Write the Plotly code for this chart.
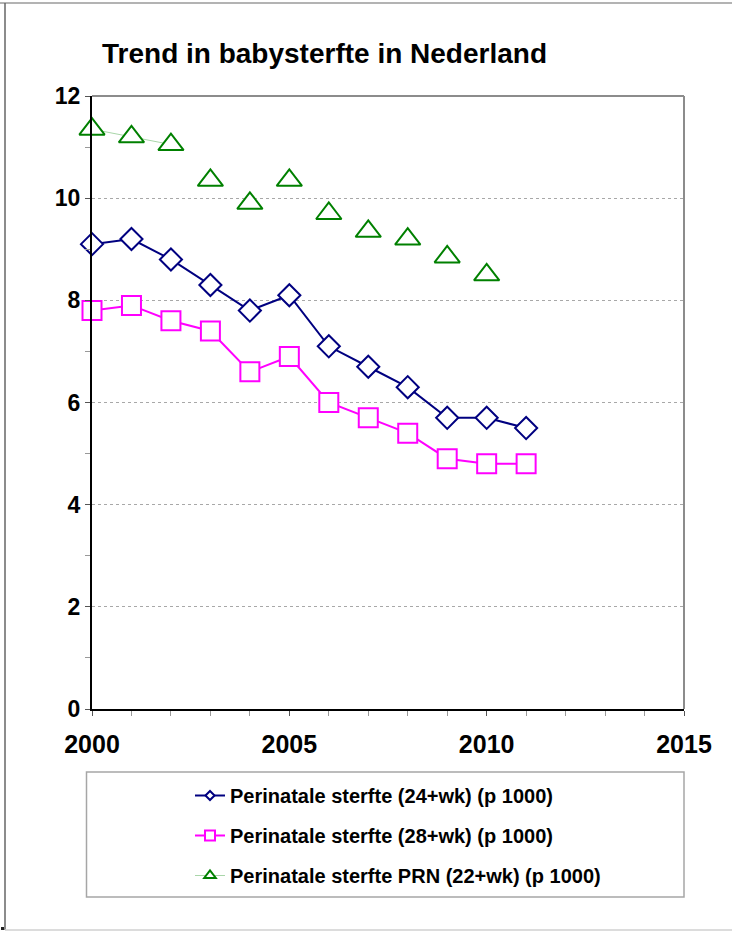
import plotly.graph_objects as go

# Perinatal mortality per 1000 births, the Netherlands
years = [2000, 2001, 2002, 2003, 2004, 2005, 2006, 2007, 2008, 2009, 2010, 2011]
sterfte_24wk = [9.1, 9.2, 8.8, 8.3, 7.8, 8.1, 7.1, 6.7, 6.3, 5.7, 5.7, 5.5]
sterfte_28wk = [7.8, 7.9, 7.6, 7.4, 6.6, 6.9, 6.0, 5.7, 5.4, 4.9, 4.8, 4.8]
years_prn = [2000, 2001, 2002, 2003, 2004, 2005, 2006, 2007, 2008, 2009, 2010]
sterfte_prn = [11.35, 11.2, 11.05, 10.35, 9.9, 10.35, 9.7, 9.35, 9.2, 8.85, 8.5]
prn_connected = 3  # only the first years of the PRN series are joined by a line

names = [
    "Perinatale sterfte (24+wk) (p 1000)",
    "Perinatale sterfte (28+wk) (p 1000)",
    "Perinatale sterfte PRN (22+wk) (p 1000)",
]
title_text = "Trend in babysterfte in Nederland"
x_ticks = [2000, 2005, 2010, 2015]
y_ticks = [0, 2, 4, 6, 8, 10, 12]

FONT = "Liberation Sans, Arial, sans-serif"
NAVY = "#000080"
MAGENTA = "#FF00FF"
GREEN = "#008000"
PALE_GREEN = "#a9d6a9"

W, H = 732, 931
L, R, T, B = 92, 48, 96, 222
PW, PH = W - L - R, H - T - B


def px_x(p):
    return (p - L) / PW


def px_y(p):
    return (H - B - p) / PH


fig = go.Figure()

# data series (legend drawn by the small proxy entries below)
fig.add_trace(go.Scatter(
    x=years, y=sterfte_24wk, name=names[0], mode="lines+markers",
    line=dict(color=NAVY, width=2),
    marker=dict(symbol="diamond", size=17, color="white",
                line=dict(color=NAVY, width=2)),
    showlegend=False, cliponaxis=False,
))
fig.add_trace(go.Scatter(
    x=years, y=sterfte_28wk, name=names[1], mode="lines+markers",
    line=dict(color=MAGENTA, width=2),
    marker=dict(symbol="square", size=19, color="white",
                line=dict(color=MAGENTA, width=2)),
    showlegend=False, cliponaxis=False,
))
fig.add_trace(go.Scatter(
    x=years_prn[:prn_connected], y=sterfte_prn[:prn_connected], name=names[2],
    mode="lines+markers",
    line=dict(color=PALE_GREEN, width=1),
    marker=dict(symbol="triangle-up", size=22, color="white",
                line=dict(color=GREEN, width=2)),
    showlegend=False, cliponaxis=False,
))
fig.add_trace(go.Scatter(
    x=years_prn[prn_connected:], y=sterfte_prn[prn_connected:], name=names[2],
    mode="markers",
    marker=dict(symbol="triangle-up", size=22, color="white",
                line=dict(color=GREEN, width=2)),
    showlegend=False, cliponaxis=False,
))

# legend entries with small symbols
legend_styles = [
    (NAVY, 2, "diamond", 7, NAVY),
    (MAGENTA, 2, "square", 10, MAGENTA),
    (PALE_GREEN, 1, "triangle-up", 10, GREEN),
]
for i, (lc, lw, sym, sz, mc) in enumerate(legend_styles):
    fig.add_trace(go.Scatter(
        x=[None], y=[None], name=names[i], mode="lines+markers",
        line=dict(color=lc, width=lw),
        marker=dict(symbol=sym, size=sz, color="white",
                    line=dict(color=mc, width=2)),
        legendgroup=f"g{i}", showlegend=True,
    ))

shapes = [
    # plot frame: grey top and right edges
    dict(type="line", xref="paper", yref="paper", x0=0, x1=1, y0=1, y1=1,
         line=dict(color="#8c8c8c", width=2)),
    dict(type="line", xref="paper", yref="paper", x0=1, x1=1, y0=0, y1=1,
         line=dict(color="#8c8c8c", width=2)),
    # legend box
    dict(type="rect", xref="paper", yref="paper",
         x0=px_x(86.5), x1=px_x(684), y0=px_y(772), y1=px_y(897),
         line=dict(color="#a6a6a6", width=1.5), fillcolor="rgba(0,0,0,0)"),
    # outer chart border
    dict(type="line", xref="paper", yref="paper",
         x0=px_x(0), x1=px_x(W), y0=px_y(3), y1=px_y(3),
         line=dict(color="#9a9a9a", width=1.5)),
    dict(type="line", xref="paper", yref="paper",
         x0=px_x(5), x1=px_x(5), y0=px_y(3), y1=px_y(930),
         line=dict(color="#666666", width=1.5)),
    dict(type="line", xref="paper", yref="paper",
         x0=px_x(5), x1=px_x(W), y0=px_y(930), y1=px_y(930),
         line=dict(color="#d0d0d0", width=1.5)),
    dict(type="rect", xref="paper", yref="paper",
         x0=px_x(1), x1=px_x(4), y0=px_y(927), y1=px_y(930),
         line=dict(width=0), fillcolor="#222222"),
]

fig.update_layout(
    width=W, height=H,
    margin=dict(l=L, r=R, t=T, b=B, pad=0),
    paper_bgcolor="white", plot_bgcolor="white",
    font=dict(family=FONT, color="black"),
    showlegend=True,
    legend=dict(
        x=px_x(190), xanchor="left", y=px_y(776), yanchor="top",
        font=dict(family=FONT, size=20, weight="bold", color="black"),
        bgcolor="rgba(0,0,0,0)", borderwidth=0,
        traceorder="grouped", tracegroupgap=11,
    ),
    shapes=shapes,
    annotations=[dict(
        text=title_text, xref="paper", yref="paper",
        x=px_x(100), y=px_y(53), xanchor="left", yanchor="middle",
        showarrow=False,
        font=dict(family=FONT, size=28, weight="bold", color="black"),
    )],
)

fig.update_xaxes(
    range=[2000, 2015], tickvals=x_ticks, ticktext=[str(v) for v in x_ticks],
    ticks="outside", ticklen=5, tickcolor="#555555", tickwidth=1,
    minor=dict(dtick=1, ticks="outside", ticklen=5, tickcolor="#999999"),
    showline=True, linecolor="black", linewidth=2,
    showgrid=False, zeroline=False,
    tickfont=dict(family=FONT, size=25, weight="bold", color="black"),
    ticklabelstandoff=7,
)
fig.update_yaxes(
    range=[0, 12], tickvals=y_ticks, ticktext=[str(v) for v in y_ticks],
    ticks="outside", ticklen=5, tickcolor="#555555", tickwidth=1,
    minor=dict(dtick=1, ticks="outside", ticklen=5, tickcolor="#999999",
               showgrid=False),
    showline=True, linecolor="black", linewidth=2,
    showgrid=True, gridcolor="#a8a8a8", griddash="dot", gridwidth=1,
    zeroline=False,
    tickfont=dict(family=FONT, size=23, weight="bold", color="black"),
)

fig.write_html("out.html")
